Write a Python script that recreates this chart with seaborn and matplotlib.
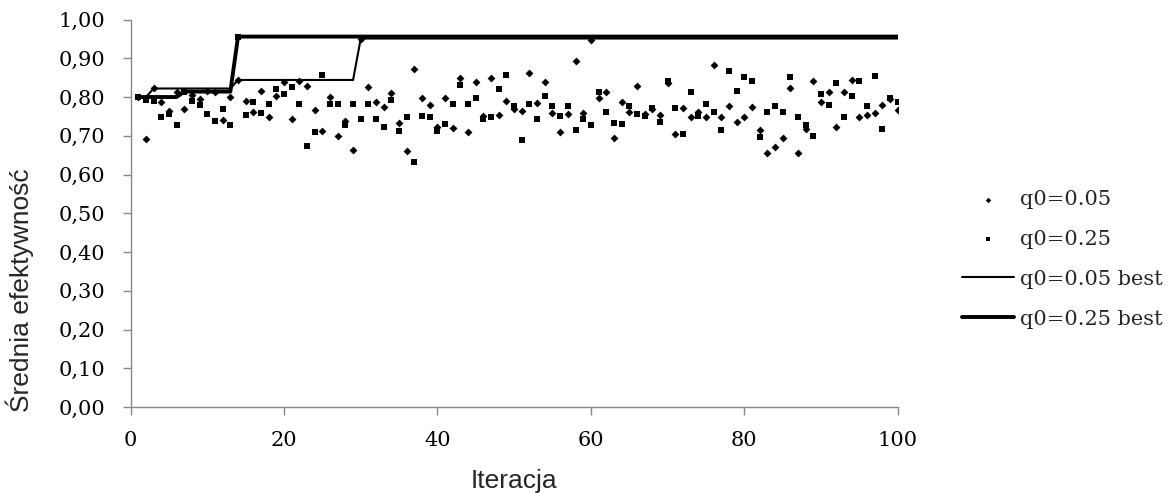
import numpy as np
import pandas as pd
import seaborn as sns
import matplotlib.pyplot as plt
from matplotlib.ticker import FuncFormatter

# -------------------------------
# Data
# -------------------------------
iterations = list(range(1, 101))

q005 = [
    0.800, 0.692, 0.822, 0.786, 0.764, 0.813, 0.768, 0.805, 0.794, 0.815,
    0.812, 0.741, 0.799, 0.844, 0.791, 0.762, 0.816, 0.748, 0.803, 0.838,
    0.744, 0.842, 0.829, 0.766, 0.712, 0.801, 0.700, 0.739, 0.664, 0.951,
    0.825, 0.787, 0.773, 0.811, 0.732, 0.660, 0.872, 0.797, 0.780, 0.723,
    0.797, 0.719, 0.848, 0.711, 0.838, 0.752, 0.849, 0.753, 0.790, 0.768,
    0.763, 0.863, 0.785, 0.840, 0.760, 0.709, 0.757, 0.892, 0.759, 0.946,
    0.797, 0.812, 0.693, 0.786, 0.762, 0.828, 0.755, 0.770, 0.754, 0.835,
    0.705, 0.772, 0.748, 0.762, 0.748, 0.882, 0.748, 0.778, 0.735, 0.749,
    0.773, 0.715, 0.656, 0.670, 0.695, 0.823, 0.656, 0.718, 0.842, 0.787,
    0.814, 0.722, 0.812, 0.843, 0.748, 0.754, 0.760, 0.780, 0.795, 0.766,
]

q025 = [
    0.800, 0.792, 0.789, 0.749, 0.756, 0.729, 0.814, 0.789, 0.780, 0.757,
    0.739, 0.770, 0.729, 0.956, 0.754, 0.788, 0.760, 0.783, 0.820, 0.809,
    0.827, 0.783, 0.674, 0.711, 0.858, 0.783, 0.783, 0.729, 0.783, 0.742,
    0.783, 0.742, 0.723, 0.792, 0.713, 0.748, 0.632, 0.751, 0.748, 0.713,
    0.731, 0.783, 0.832, 0.783, 0.798, 0.742, 0.748, 0.821, 0.858, 0.778,
    0.690, 0.783, 0.742, 0.803, 0.778, 0.752, 0.778, 0.716, 0.744, 0.729,
    0.814, 0.762, 0.734, 0.731, 0.778, 0.757, 0.752, 0.772, 0.736, 0.842,
    0.772, 0.705, 0.814, 0.752, 0.783, 0.762, 0.716, 0.868, 0.816, 0.852,
    0.842, 0.698, 0.762, 0.778, 0.762, 0.852, 0.749, 0.729, 0.700, 0.809,
    0.780, 0.837, 0.749, 0.803, 0.842, 0.778, 0.855, 0.718, 0.798, 0.788,
]

best_q005 = [
    0.800, 0.800, 0.822, 0.822, 0.822, 0.822, 0.822, 0.822, 0.822, 0.822,
    0.822, 0.822, 0.822, 0.844, 0.844, 0.844, 0.844, 0.844, 0.844, 0.844,
    0.844, 0.844, 0.844, 0.844, 0.844, 0.844, 0.844, 0.844, 0.844, 0.951,
    0.951, 0.951, 0.951, 0.951, 0.951, 0.951, 0.951, 0.951, 0.951, 0.951,
    0.951, 0.951, 0.951, 0.951, 0.951, 0.951, 0.951, 0.951, 0.951, 0.951,
    0.951, 0.951, 0.951, 0.951, 0.951, 0.951, 0.951, 0.951, 0.951, 0.951,
    0.951, 0.951, 0.951, 0.951, 0.951, 0.951, 0.951, 0.951, 0.951, 0.951,
    0.951, 0.951, 0.951, 0.951, 0.951, 0.951, 0.951, 0.951, 0.951, 0.951,
    0.951, 0.951, 0.951, 0.951, 0.951, 0.951, 0.951, 0.951, 0.951, 0.951,
    0.951, 0.951, 0.951, 0.951, 0.951, 0.951, 0.951, 0.951, 0.951, 0.951,
]

best_q025 = [
    0.800, 0.800, 0.800, 0.800, 0.800, 0.800, 0.814, 0.814, 0.814, 0.814,
    0.814, 0.814, 0.814, 0.956, 0.956, 0.956, 0.956, 0.956, 0.956, 0.956,
    0.956, 0.956, 0.956, 0.956, 0.956, 0.956, 0.956, 0.956, 0.956, 0.956,
    0.956, 0.956, 0.956, 0.956, 0.956, 0.956, 0.956, 0.956, 0.956, 0.956,
    0.956, 0.956, 0.956, 0.956, 0.956, 0.956, 0.956, 0.956, 0.956, 0.956,
    0.956, 0.956, 0.956, 0.956, 0.956, 0.956, 0.956, 0.956, 0.956, 0.956,
    0.956, 0.956, 0.956, 0.956, 0.956, 0.956, 0.956, 0.956, 0.956, 0.956,
    0.956, 0.956, 0.956, 0.956, 0.956, 0.956, 0.956, 0.956, 0.956, 0.956,
    0.956, 0.956, 0.956, 0.956, 0.956, 0.956, 0.956, 0.956, 0.956, 0.956,
    0.956, 0.956, 0.956, 0.956, 0.956, 0.956, 0.956, 0.956, 0.956, 0.956,
]

labels = ["q0=0.05", "q0=0.25", "q0=0.05 best", "q0=0.25 best"]

df = pd.DataFrame({
    "Iteracja": iterations,
    "q005": q005,
    "q025": q025,
    "best_q005": best_q005,
    "best_q025": best_q025,
})

# -------------------------------
# Style
# -------------------------------
sns.set_style("ticks")
plt.rcParams["font.family"] = ["DejaVu Serif"]
axis_gray = "#898989"

fig = plt.figure(figsize=(11.76, 4.93), dpi=100)
ax = fig.add_axes([0.1111, 0.1744, 0.6522, 0.786])

# -------------------------------
# Plot
# -------------------------------
sns.scatterplot(data=df, x="Iteracja", y="q005", marker="D", s=16,
                color="black", edgecolor="black", linewidth=0,
                label=labels[0], ax=ax, zorder=3)
sns.scatterplot(data=df, x="Iteracja", y="q025", marker="s", s=21,
                color="black", edgecolor="black", linewidth=0,
                label=labels[1], ax=ax, zorder=3)
sns.lineplot(data=df, x="Iteracja", y="best_q005", color="black",
             linewidth=1.5, label=labels[2], ax=ax, zorder=2)
sns.lineplot(data=df, x="Iteracja", y="best_q025", color="black",
             linewidth=2.8, label=labels[3], ax=ax, zorder=2)

ax.set_xlim(0, 100)
ax.set_ylim(0, 1)
ax.set_xticks(np.arange(0, 101, 20))
ax.set_yticks(np.arange(0, 1.01, 0.1))
ax.yaxis.set_major_formatter(FuncFormatter(lambda v, _: f"{v:.2f}".replace(".", ",")))

sns.despine(ax=ax)
for side in ["left", "bottom"]:
    ax.spines[side].set_color(axis_gray)
    ax.spines[side].set_linewidth(1.0)
ax.tick_params(axis="both", colors=axis_gray, labelcolor="black",
               length=6, width=1.0, labelsize=15)
ax.tick_params(axis="x", pad=11)
ax.tick_params(axis="y", pad=12)

ax.set_xlabel("Iteracja", family="Liberation Sans", fontsize=19)
ax.set_ylabel("Średnia efektywność", family="Liberation Sans", fontsize=19)
ax.xaxis.set_label_coords(0.5, -0.16)
ax.yaxis.set_label_coords(-0.126, 0.302)

handles, labs = ax.get_legend_handles_labels()
order = [labs.index(l) for l in labels]
ax.legend([handles[i] for i in order], labels,
          loc="center left", bbox_to_anchor=(0.818, 0.474),
          bbox_transform=fig.transFigure, frameon=False,
          fontsize=15, handlelength=2.5, handletextpad=0.3,
          labelspacing=1.0, borderpad=0, borderaxespad=0,
          markerscale=0.7)

fig.savefig("out.png", dpi=100)
plt.close(fig)
